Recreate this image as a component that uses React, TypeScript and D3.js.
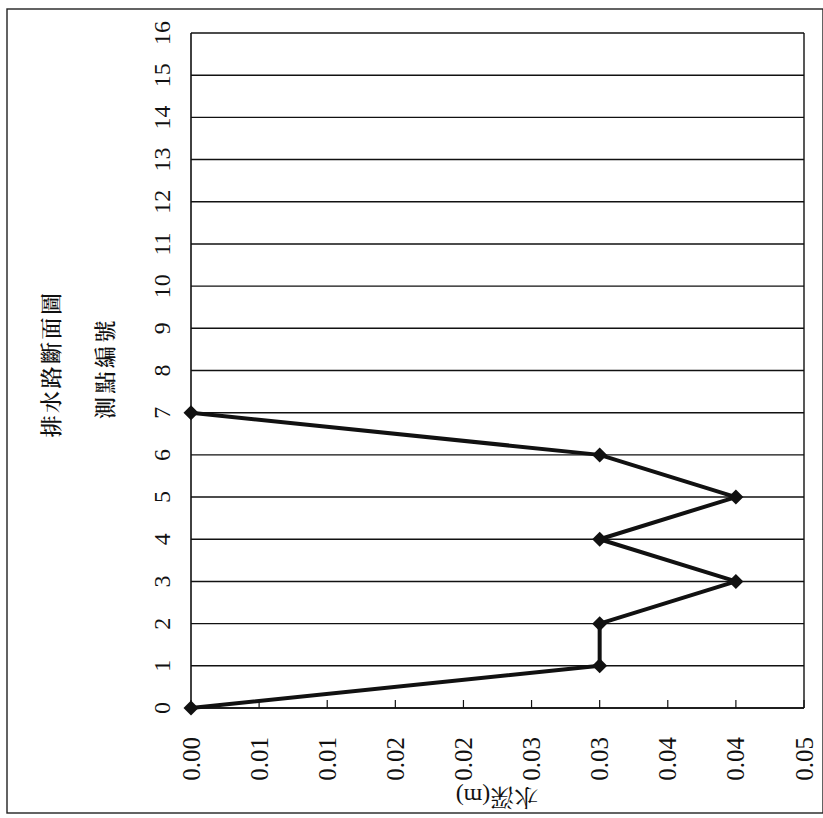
import React from "react";
import * as d3 from "d3";

// Data (chart is printed rotated 90° counter-clockwise)
const pointIds = [0, 1, 2, 3, 4, 5, 6, 7];
const depths = [0, 0.03, 0.03, 0.04, 0.03, 0.04, 0.03, 0];
const categoryTicks = [0, 1, 2, 3, 4, 5, 6, 7, 8, 9, 10, 11, 12, 13, 14, 15, 16];
const depthTicks = [0, 0.005, 0.01, 0.015, 0.02, 0.025, 0.03, 0.035, 0.04, 0.045];
const depthTickLabels = ["0.00", "0.01", "0.01", "0.02", "0.02", "0.03", "0.03", "0.04", "0.04", "0.05"];
const chartTitle = "排水路斷面圖";
const categoryTitle = "測點編號";
const valueTitle = "水深(m)";

const W = 823;
const H = 818;
const INK = "#111";
const SERIF = "Liberation Serif, Noto Serif CJK TC, Noto Sans CJK TC, serif";
const CJK = "Noto Serif CJK TC, Noto Sans CJK TC, serif";

export default function App() {
  const x = d3.scaleLinear().domain([0, 0.045]).range([191, 804]);
  const y = d3.scaleLinear().domain([0, 16]).range([708, 33]);

  const pts: [number, number][] = pointIds.map((id, i) => [x(depths[i]), y(id)]);
  const line = d3.line<[number, number]>().x((d) => d[0]).y((d) => d[1]);
  const d = 7.5;

  return (
    <svg
      width={W}
      height={H}
      viewBox={`0 0 ${W} ${H}`}
      style={{ position: "absolute", left: 0, top: 0, background: "#fff" }}
    >
      <rect x={0} y={0} width={W} height={H} fill="#fff" />
      {/* outer chart border */}
      <rect x={7} y={9} width={816} height={804} fill="none" stroke="#222" strokeWidth={1.4} />

      {/* gridlines */}
      {categoryTicks.map((c) => (
        <line key={`g${c}`} x1={x(0)} x2={x(0.045)} y1={y(c)} y2={y(c)} stroke={INK} strokeWidth={1.4} />
      ))}
      {/* plot frame */}
      <line x1={x(0.045)} x2={x(0.045)} y1={y(16)} y2={y(0)} stroke={INK} strokeWidth={1.4} />
      <line x1={x(0)} x2={x(0)} y1={y(16)} y2={y(0)} stroke={INK} strokeWidth={1.6} />
      <line x1={x(0)} x2={x(0.045)} y1={y(0)} y2={y(0)} stroke={INK} strokeWidth={1.6} />

      {/* value ticks (inside) */}
      {depthTicks.map((t) => (
        <line key={`t${t}`} x1={x(t)} x2={x(t)} y1={y(0)} y2={y(0) - 8} stroke={INK} strokeWidth={1.2} />
      ))}

      {/* value tick labels */}
      {depthTicks.map((t, i) => (
        <text
          key={`l${t}`}
          transform={`translate(${x(t)},737) rotate(-90)`}
          textAnchor="end"
          dominantBaseline="central"
          fontFamily={SERIF}
          fontSize={25}
          fill={INK}
        >
          {depthTickLabels[i]}
        </text>
      ))}

      {/* category tick labels */}
      {categoryTicks.map((c) => (
        <text
          key={`c${c}`}
          transform={`translate(162,${y(c)}) rotate(-90)`}
          textAnchor="middle"
          dominantBaseline="central"
          fontFamily={SERIF}
          fontSize={24}
          fill={INK}
        >
          {c}
        </text>
      ))}

      {/* data line */}
      <path d={line(pts) || ""} fill="none" stroke={INK} strokeWidth={4} strokeLinejoin="round" />
      {pts.map((p, i) => (
        <path
          key={`m${i}`}
          d={`M${p[0]},${p[1] - d}L${p[0] + d},${p[1]}L${p[0]},${p[1] + d}L${p[0] - d},${p[1]}Z`}
          fill={INK}
        />
      ))}

      {/* titles */}
      <text
        transform="translate(49,364) rotate(-90)"
        textAnchor="middle"
        dominantBaseline="central"
        fontFamily={CJK}
        fontSize={22}
        fontWeight={600}
        letterSpacing={2.5}
        fill={INK}
      >
        {chartTitle}
      </text>
      <text
        transform="translate(103,368) rotate(-90)"
        textAnchor="middle"
        dominantBaseline="central"
        fontFamily={CJK}
        fontSize={22}
        fontWeight={600}
        letterSpacing={3.5}
        fill={INK}
      >
        {categoryTitle}
      </text>
      <text
        transform="translate(497,797) rotate(180)"
        textAnchor="middle"
        dominantBaseline="central"
        fontFamily={SERIF}
        fontSize={24}
        fill={INK}
      >
        {valueTitle}
      </text>
    </svg>
  );
}
